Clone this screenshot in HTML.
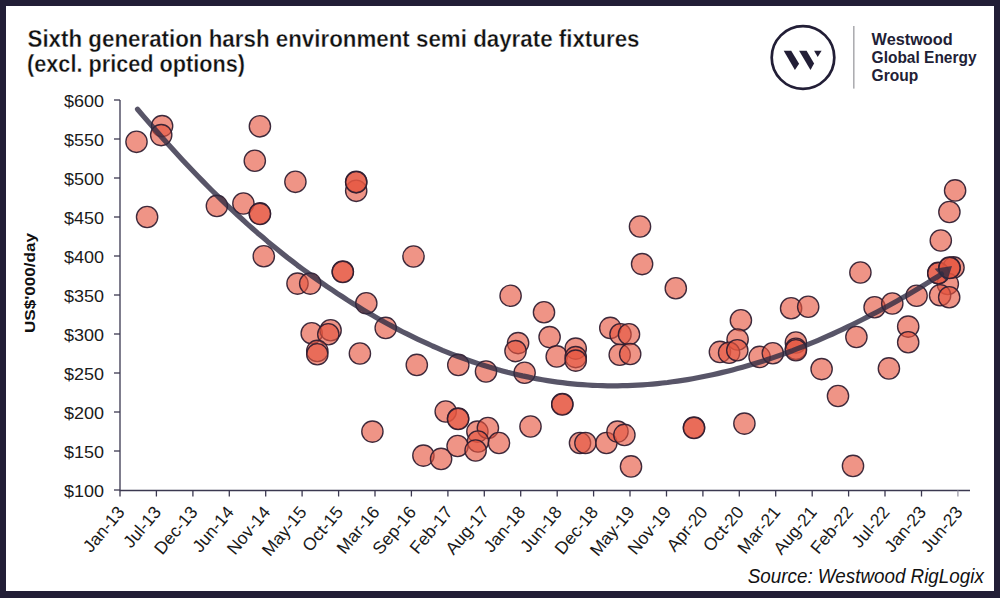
<!DOCTYPE html>
<html><head><meta charset="utf-8"><title>Chart</title>
<style>
html,body{margin:0;padding:0;background:#fff;}
body{width:1000px;height:598px;overflow:hidden;font-family:"Liberation Sans",sans-serif;}
svg{display:block;font-family:"Liberation Sans",sans-serif;}
.yl{font-size:17px;fill:#1a1a1a;text-anchor:end;}
.xl{font-size:17.5px;fill:#1a1a1a;text-anchor:end;}
.pt{fill:#e5563f;fill-opacity:.63;stroke:#2e1c30;stroke-opacity:.92;stroke-width:1.35;}
.lg{font-size:16.3px;font-weight:bold;fill:#221e36;}
</style></head><body>
<svg width="1000" height="598" viewBox="0 0 1000 598">
<rect x="0" y="0" width="1000" height="598" fill="#221e36"/>
<rect x="6" y="6" width="988" height="585" fill="#ffffff"/>

<text x="27.5" y="47.3" font-size="24" font-weight="bold" fill="#111" stroke="#fff" stroke-width="0.35" textLength="612" lengthAdjust="spacingAndGlyphs">Sixth generation harsh environment semi dayrate fixtures</text>
<text x="27" y="72.4" font-size="24" font-weight="bold" fill="#111" stroke="#fff" stroke-width="0.35" textLength="218" lengthAdjust="spacingAndGlyphs">(excl. priced options)</text>
<circle cx="803" cy="57.5" r="31.3" fill="none" stroke="#221e36" stroke-width="2.7"/>
<polygon points="783.7,50.8 791.2,50.8 799.1,63.8 794.9,70.1" fill="#221e36"/>
<polygon points="799.1,50.8 806.6,50.8 814.1,63.5 810.5,70.1" fill="#221e36"/>
<polygon points="814.1,50.8 821.6,50.8 817.7,57.1" fill="#221e36"/>
<rect x="853.3" y="26" width="1.1" height="62.6" fill="#8a8a90"/>
<text class="lg" x="871.6" y="45.2" textLength="81" lengthAdjust="spacingAndGlyphs">Westwood</text>
<text class="lg" x="871.6" y="62.9" textLength="105" lengthAdjust="spacingAndGlyphs">Global Energy</text>
<text class="lg" x="871.6" y="80.7" textLength="46.7" lengthAdjust="spacingAndGlyphs">Group</text>
<path d="M120,100 V490.5 H970" fill="none" stroke="#3b3850" stroke-width="1.3"/>
<line x1="114" x2="120" y1="100.0" y2="100.0" stroke="#3b3850" stroke-width="1.3"/>
<text class="yl" x="104" y="106.6" textLength="40" lengthAdjust="spacingAndGlyphs">$600</text>
<line x1="114" x2="120" y1="139.0" y2="139.0" stroke="#3b3850" stroke-width="1.3"/>
<text class="yl" x="104" y="145.6" textLength="40" lengthAdjust="spacingAndGlyphs">$550</text>
<line x1="114" x2="120" y1="178.0" y2="178.0" stroke="#3b3850" stroke-width="1.3"/>
<text class="yl" x="104" y="184.6" textLength="40" lengthAdjust="spacingAndGlyphs">$500</text>
<line x1="114" x2="120" y1="217.0" y2="217.0" stroke="#3b3850" stroke-width="1.3"/>
<text class="yl" x="104" y="223.6" textLength="40" lengthAdjust="spacingAndGlyphs">$450</text>
<line x1="114" x2="120" y1="256.0" y2="256.0" stroke="#3b3850" stroke-width="1.3"/>
<text class="yl" x="104" y="262.6" textLength="40" lengthAdjust="spacingAndGlyphs">$400</text>
<line x1="114" x2="120" y1="295.0" y2="295.0" stroke="#3b3850" stroke-width="1.3"/>
<text class="yl" x="104" y="301.6" textLength="40" lengthAdjust="spacingAndGlyphs">$350</text>
<line x1="114" x2="120" y1="334.0" y2="334.0" stroke="#3b3850" stroke-width="1.3"/>
<text class="yl" x="104" y="340.6" textLength="40" lengthAdjust="spacingAndGlyphs">$300</text>
<line x1="114" x2="120" y1="373.0" y2="373.0" stroke="#3b3850" stroke-width="1.3"/>
<text class="yl" x="104" y="379.6" textLength="40" lengthAdjust="spacingAndGlyphs">$250</text>
<line x1="114" x2="120" y1="412.0" y2="412.0" stroke="#3b3850" stroke-width="1.3"/>
<text class="yl" x="104" y="418.6" textLength="40" lengthAdjust="spacingAndGlyphs">$200</text>
<line x1="114" x2="120" y1="451.0" y2="451.0" stroke="#3b3850" stroke-width="1.3"/>
<text class="yl" x="104" y="457.6" textLength="40" lengthAdjust="spacingAndGlyphs">$150</text>
<line x1="114" x2="120" y1="490.0" y2="490.0" stroke="#3b3850" stroke-width="1.3"/>
<text class="yl" x="104" y="496.6" textLength="40" lengthAdjust="spacingAndGlyphs">$100</text>
<line x1="120.0" x2="120.0" y1="490.5" y2="496.5" stroke="#3b3850" stroke-width="1.3"/>
<text class="xl" transform="translate(125.5,512.5) rotate(-50)">Jan-13</text>
<line x1="156.4" x2="156.4" y1="490.5" y2="496.5" stroke="#3b3850" stroke-width="1.3"/>
<text class="xl" transform="translate(161.9,512.5) rotate(-50)">Jul-13</text>
<line x1="192.9" x2="192.9" y1="490.5" y2="496.5" stroke="#3b3850" stroke-width="1.3"/>
<text class="xl" transform="translate(198.4,512.5) rotate(-50)">Dec-13</text>
<line x1="229.3" x2="229.3" y1="490.5" y2="496.5" stroke="#3b3850" stroke-width="1.3"/>
<text class="xl" transform="translate(234.8,512.5) rotate(-50)">Jun-14</text>
<line x1="265.7" x2="265.7" y1="490.5" y2="496.5" stroke="#3b3850" stroke-width="1.3"/>
<text class="xl" transform="translate(271.2,512.5) rotate(-50)">Nov-14</text>
<line x1="302.1" x2="302.1" y1="490.5" y2="496.5" stroke="#3b3850" stroke-width="1.3"/>
<text class="xl" transform="translate(307.6,512.5) rotate(-50)">May-15</text>
<line x1="338.6" x2="338.6" y1="490.5" y2="496.5" stroke="#3b3850" stroke-width="1.3"/>
<text class="xl" transform="translate(344.1,512.5) rotate(-50)">Oct-15</text>
<line x1="375.0" x2="375.0" y1="490.5" y2="496.5" stroke="#3b3850" stroke-width="1.3"/>
<text class="xl" transform="translate(380.5,512.5) rotate(-50)">Mar-16</text>
<line x1="411.4" x2="411.4" y1="490.5" y2="496.5" stroke="#3b3850" stroke-width="1.3"/>
<text class="xl" transform="translate(416.9,512.5) rotate(-50)">Sep-16</text>
<line x1="447.9" x2="447.9" y1="490.5" y2="496.5" stroke="#3b3850" stroke-width="1.3"/>
<text class="xl" transform="translate(453.4,512.5) rotate(-50)">Feb-17</text>
<line x1="484.3" x2="484.3" y1="490.5" y2="496.5" stroke="#3b3850" stroke-width="1.3"/>
<text class="xl" transform="translate(489.8,512.5) rotate(-50)">Aug-17</text>
<line x1="520.7" x2="520.7" y1="490.5" y2="496.5" stroke="#3b3850" stroke-width="1.3"/>
<text class="xl" transform="translate(526.2,512.5) rotate(-50)">Jan-18</text>
<line x1="557.2" x2="557.2" y1="490.5" y2="496.5" stroke="#3b3850" stroke-width="1.3"/>
<text class="xl" transform="translate(562.7,512.5) rotate(-50)">Jun-18</text>
<line x1="593.6" x2="593.6" y1="490.5" y2="496.5" stroke="#3b3850" stroke-width="1.3"/>
<text class="xl" transform="translate(599.1,512.5) rotate(-50)">Dec-18</text>
<line x1="630.0" x2="630.0" y1="490.5" y2="496.5" stroke="#3b3850" stroke-width="1.3"/>
<text class="xl" transform="translate(635.5,512.5) rotate(-50)">May-19</text>
<line x1="666.5" x2="666.5" y1="490.5" y2="496.5" stroke="#3b3850" stroke-width="1.3"/>
<text class="xl" transform="translate(672.0,512.5) rotate(-50)">Nov-19</text>
<line x1="702.9" x2="702.9" y1="490.5" y2="496.5" stroke="#3b3850" stroke-width="1.3"/>
<text class="xl" transform="translate(708.4,512.5) rotate(-50)">Apr-20</text>
<line x1="739.3" x2="739.3" y1="490.5" y2="496.5" stroke="#3b3850" stroke-width="1.3"/>
<text class="xl" transform="translate(744.8,512.5) rotate(-50)">Oct-20</text>
<line x1="775.7" x2="775.7" y1="490.5" y2="496.5" stroke="#3b3850" stroke-width="1.3"/>
<text class="xl" transform="translate(781.2,512.5) rotate(-50)">Mar-21</text>
<line x1="812.2" x2="812.2" y1="490.5" y2="496.5" stroke="#3b3850" stroke-width="1.3"/>
<text class="xl" transform="translate(817.7,512.5) rotate(-50)">Aug-21</text>
<line x1="848.6" x2="848.6" y1="490.5" y2="496.5" stroke="#3b3850" stroke-width="1.3"/>
<text class="xl" transform="translate(854.1,512.5) rotate(-50)">Feb-22</text>
<line x1="885.0" x2="885.0" y1="490.5" y2="496.5" stroke="#3b3850" stroke-width="1.3"/>
<text class="xl" transform="translate(890.5,512.5) rotate(-50)">Jul-22</text>
<line x1="921.5" x2="921.5" y1="490.5" y2="496.5" stroke="#3b3850" stroke-width="1.3"/>
<text class="xl" transform="translate(927.0,512.5) rotate(-50)">Jan-23</text>
<line x1="957.9" x2="957.9" y1="490.5" y2="496.5" stroke="#9a98a6" stroke-width="1.3"/>
<text class="xl" transform="translate(963.4,512.5) rotate(-50)">Jun-23</text>
<text transform="translate(34.6,283) rotate(-90)" text-anchor="middle" font-size="15.5" font-weight="bold" fill="#111" textLength="100" lengthAdjust="spacingAndGlyphs">US$'000/day</text>
<circle class="pt" cx="136.5" cy="141.8" r="10.65"/>
<circle class="pt" cx="162.1" cy="126.1" r="10.65"/>
<circle class="pt" cx="161.2" cy="135.1" r="10.65"/>
<circle class="pt" cx="147.1" cy="217.0" r="10.65"/>
<circle class="pt" cx="259.9" cy="126.3" r="10.65"/>
<circle class="pt" cx="254.8" cy="160.7" r="10.65"/>
<circle class="pt" cx="295.4" cy="181.8" r="10.65"/>
<circle class="pt" cx="356.2" cy="190.8" r="10.65"/>
<circle class="pt" cx="356.2" cy="181.8" r="10.65"/>
<circle class="pt" cx="356.2" cy="182.3" r="10.65"/>
<circle class="pt" cx="216.9" cy="205.9" r="10.65"/>
<circle class="pt" cx="243.4" cy="203.5" r="10.65"/>
<circle class="pt" cx="259.9" cy="213.4" r="10.65"/>
<circle class="pt" cx="259.9" cy="213.9" r="10.65"/>
<circle class="pt" cx="263.8" cy="256.3" r="10.65"/>
<circle class="pt" cx="413.5" cy="256.5" r="10.65"/>
<circle class="pt" cx="342.8" cy="271.5" r="10.65"/>
<circle class="pt" cx="342.8" cy="272.0" r="10.65"/>
<circle class="pt" cx="297.5" cy="283.6" r="10.65"/>
<circle class="pt" cx="310.2" cy="283.6" r="10.65"/>
<circle class="pt" cx="366.3" cy="303.2" r="10.65"/>
<circle class="pt" cx="385.7" cy="327.9" r="10.65"/>
<circle class="pt" cx="311.7" cy="333.3" r="10.65"/>
<circle class="pt" cx="330.6" cy="330.3" r="10.65"/>
<circle class="pt" cx="328.3" cy="334.2" r="10.65"/>
<circle class="pt" cx="317.3" cy="350.9" r="10.65"/>
<circle class="pt" cx="317.3" cy="354.2" r="10.65"/>
<circle class="pt" cx="359.9" cy="353.5" r="10.65"/>
<circle class="pt" cx="416.8" cy="364.9" r="10.65"/>
<circle class="pt" cx="458.3" cy="364.9" r="10.65"/>
<circle class="pt" cx="486.0" cy="371.5" r="10.65"/>
<circle class="pt" cx="510.6" cy="295.7" r="10.65"/>
<circle class="pt" cx="544.0" cy="312.2" r="10.65"/>
<circle class="pt" cx="549.6" cy="337.1" r="10.65"/>
<circle class="pt" cx="518.1" cy="343.1" r="10.65"/>
<circle class="pt" cx="515.5" cy="351.1" r="10.65"/>
<circle class="pt" cx="524.6" cy="372.8" r="10.65"/>
<circle class="pt" cx="556.7" cy="356.4" r="10.65"/>
<circle class="pt" cx="575.7" cy="348.6" r="10.65"/>
<circle class="pt" cx="575.7" cy="357.1" r="10.65"/>
<circle class="pt" cx="575.7" cy="360.6" r="10.65"/>
<circle class="pt" cx="610.3" cy="327.9" r="10.65"/>
<circle class="pt" cx="620.5" cy="334.2" r="10.65"/>
<circle class="pt" cx="629.0" cy="334.2" r="10.65"/>
<circle class="pt" cx="619.7" cy="354.7" r="10.65"/>
<circle class="pt" cx="630.2" cy="354.0" r="10.65"/>
<circle class="pt" cx="640.0" cy="226.5" r="10.65"/>
<circle class="pt" cx="642.1" cy="264.1" r="10.65"/>
<circle class="pt" cx="562.3" cy="404.0" r="10.65"/>
<circle class="pt" cx="562.3" cy="404.5" r="10.65"/>
<circle class="pt" cx="445.7" cy="411.5" r="10.65"/>
<circle class="pt" cx="458.1" cy="418.5" r="10.65"/>
<circle class="pt" cx="458.1" cy="419.0" r="10.65"/>
<circle class="pt" cx="372.4" cy="431.6" r="10.65"/>
<circle class="pt" cx="423.4" cy="455.6" r="10.65"/>
<circle class="pt" cx="441.1" cy="458.9" r="10.65"/>
<circle class="pt" cx="457.6" cy="446.0" r="10.65"/>
<circle class="pt" cx="477.4" cy="431.6" r="10.65"/>
<circle class="pt" cx="487.9" cy="428.0" r="10.65"/>
<circle class="pt" cx="478.0" cy="441.5" r="10.65"/>
<circle class="pt" cx="475.6" cy="450.5" r="10.65"/>
<circle class="pt" cx="499.0" cy="443.0" r="10.65"/>
<circle class="pt" cx="530.5" cy="426.5" r="10.65"/>
<circle class="pt" cx="580.0" cy="443.0" r="10.65"/>
<circle class="pt" cx="585.4" cy="443.0" r="10.65"/>
<circle class="pt" cx="606.4" cy="443.0" r="10.65"/>
<circle class="pt" cx="617.5" cy="431.6" r="10.65"/>
<circle class="pt" cx="624.4" cy="434.9" r="10.65"/>
<circle class="pt" cx="631.0" cy="466.4" r="10.65"/>
<circle class="pt" cx="675.8" cy="288.2" r="10.65"/>
<circle class="pt" cx="740.9" cy="320.2" r="10.65"/>
<circle class="pt" cx="737.6" cy="339.5" r="10.65"/>
<circle class="pt" cx="719.9" cy="351.9" r="10.65"/>
<circle class="pt" cx="729.1" cy="352.7" r="10.65"/>
<circle class="pt" cx="737.3" cy="350.3" r="10.65"/>
<circle class="pt" cx="759.6" cy="356.9" r="10.65"/>
<circle class="pt" cx="772.8" cy="353.3" r="10.65"/>
<circle class="pt" cx="795.9" cy="342.5" r="10.65"/>
<circle class="pt" cx="795.9" cy="348.8" r="10.65"/>
<circle class="pt" cx="795.9" cy="350.3" r="10.65"/>
<circle class="pt" cx="791.1" cy="308.3" r="10.65"/>
<circle class="pt" cx="808.2" cy="306.8" r="10.65"/>
<circle class="pt" cx="860.4" cy="272.5" r="10.65"/>
<circle class="pt" cx="874.6" cy="307.2" r="10.65"/>
<circle class="pt" cx="892.3" cy="303.5" r="10.65"/>
<circle class="pt" cx="856.4" cy="337.0" r="10.65"/>
<circle class="pt" cx="821.6" cy="369.1" r="10.65"/>
<circle class="pt" cx="888.9" cy="368.4" r="10.65"/>
<circle class="pt" cx="838.0" cy="396.0" r="10.65"/>
<circle class="pt" cx="853.0" cy="465.9" r="10.65"/>
<circle class="pt" cx="694.0" cy="427.5" r="10.65"/>
<circle class="pt" cx="694.0" cy="428.0" r="10.65"/>
<circle class="pt" cx="744.4" cy="423.6" r="10.65"/>
<circle class="pt" cx="908.2" cy="326.6" r="10.65"/>
<circle class="pt" cx="908.2" cy="342.2" r="10.65"/>
<circle class="pt" cx="955.1" cy="190.4" r="10.65"/>
<circle class="pt" cx="949.4" cy="212.0" r="10.65"/>
<circle class="pt" cx="940.8" cy="240.5" r="10.65"/>
<circle class="pt" cx="953.5" cy="267.4" r="10.65"/>
<circle class="pt" cx="947.8" cy="283.9" r="10.65"/>
<circle class="pt" cx="938.3" cy="272.9" r="10.65"/>
<circle class="pt" cx="938.3" cy="273.3" r="10.65"/>
<circle class="pt" cx="949.5" cy="267.6" r="10.65"/>
<circle class="pt" cx="949.5" cy="268.0" r="10.65"/>
<circle class="pt" cx="940.1" cy="295.3" r="10.65"/>
<circle class="pt" cx="949.2" cy="297.3" r="10.65"/>
<circle class="pt" cx="916.6" cy="295.8" r="10.65"/>
<path d="M137.5,109.2 L142.5,115.1 L147.5,120.9 L152.5,126.6 L157.5,132.3 L162.5,138.0 L167.5,143.5 L172.5,149.1 L177.5,154.5 L182.5,159.9 L187.5,165.3 L192.5,170.5 L197.5,175.7 L202.5,180.9 L207.5,186.0 L212.5,191.0 L217.5,195.9 L222.5,200.8 L227.5,205.6 L232.5,210.3 L237.5,215.0 L242.5,219.5 L247.5,224.1 L252.5,228.5 L257.5,232.9 L262.5,237.1 L267.5,241.4 L272.5,245.5 L277.5,249.6 L282.5,253.6 L287.5,257.6 L292.5,261.4 L297.5,265.3 L302.5,269.0 L307.5,272.7 L312.5,276.3 L317.5,279.9 L322.5,283.4 L327.5,286.9 L332.5,290.2 L337.5,293.6 L342.5,296.8 L347.5,300.1 L352.5,303.2 L357.5,306.3 L362.5,309.4 L367.5,312.4 L372.5,315.3 L377.5,318.2 L382.5,321.0 L387.5,323.7 L392.5,326.4 L397.5,329.1 L402.5,331.7 L407.5,334.2 L412.5,336.7 L417.5,339.1 L422.5,341.4 L427.5,343.7 L432.5,346.0 L437.5,348.1 L442.5,350.3 L447.5,352.3 L452.5,354.3 L457.5,356.2 L462.5,358.1 L467.5,359.9 L472.5,361.7 L477.5,363.4 L482.5,365.0 L487.5,366.6 L492.5,368.1 L497.5,369.6 L502.5,370.9 L507.5,372.3 L512.5,373.5 L517.5,374.7 L522.5,375.9 L527.5,376.9 L532.5,378.0 L537.5,378.9 L542.5,379.8 L547.5,380.6 L552.5,381.4 L557.5,382.1 L562.5,382.7 L567.5,383.3 L572.5,383.8 L577.5,384.3 L582.5,384.7 L587.5,385.0 L592.5,385.3 L597.5,385.5 L602.5,385.7 L607.5,385.8 L612.5,385.8 L617.5,385.8 L622.5,385.7 L627.5,385.6 L632.5,385.4 L637.5,385.1 L642.5,384.8 L647.5,384.5 L652.5,384.1 L657.5,383.6 L662.5,383.0 L667.5,382.5 L672.5,381.8 L677.5,381.1 L682.5,380.4 L687.5,379.6 L692.5,378.7 L697.5,377.8 L702.5,376.8 L707.5,375.8 L712.5,374.7 L717.5,373.6 L722.5,372.4 L727.5,371.2 L732.5,369.9 L737.5,368.6 L742.5,367.2 L747.5,365.8 L752.5,364.3 L757.5,362.8 L762.5,361.2 L767.5,359.6 L772.5,357.9 L777.5,356.1 L782.5,354.4 L787.5,352.5 L792.5,350.7 L797.5,348.7 L802.5,346.8 L807.5,344.7 L812.5,342.7 L817.5,340.6 L822.5,338.4 L827.5,336.2 L832.5,334.0 L837.5,331.7 L842.5,329.3 L847.5,326.9 L852.5,324.5 L857.5,322.0 L862.5,319.5 L867.5,316.9 L872.5,314.3 L877.5,311.7 L882.5,309.0 L887.5,306.3 L892.5,303.5 L897.5,300.7 L902.5,297.8 L907.5,294.9 L912.5,292.0 L917.5,289.0 L922.5,286.0 L927.5,282.9 L932.5,279.8 L937.5,276.7 L941.5,274.1" fill="none" stroke="#2e2a42" stroke-opacity=".8" stroke-width="5.2" stroke-linecap="round" stroke-linejoin="round"/>
<polygon points="952,266 934.6,268.8 940.8,275.8 947,281.2" fill="#2e2a42" fill-opacity=".8"/>
<text x="983.8" y="582.5" text-anchor="end" font-size="20" font-style="italic" fill="#111" textLength="236" lengthAdjust="spacingAndGlyphs">Source: Westwood RigLogix</text>
</svg></body></html>
